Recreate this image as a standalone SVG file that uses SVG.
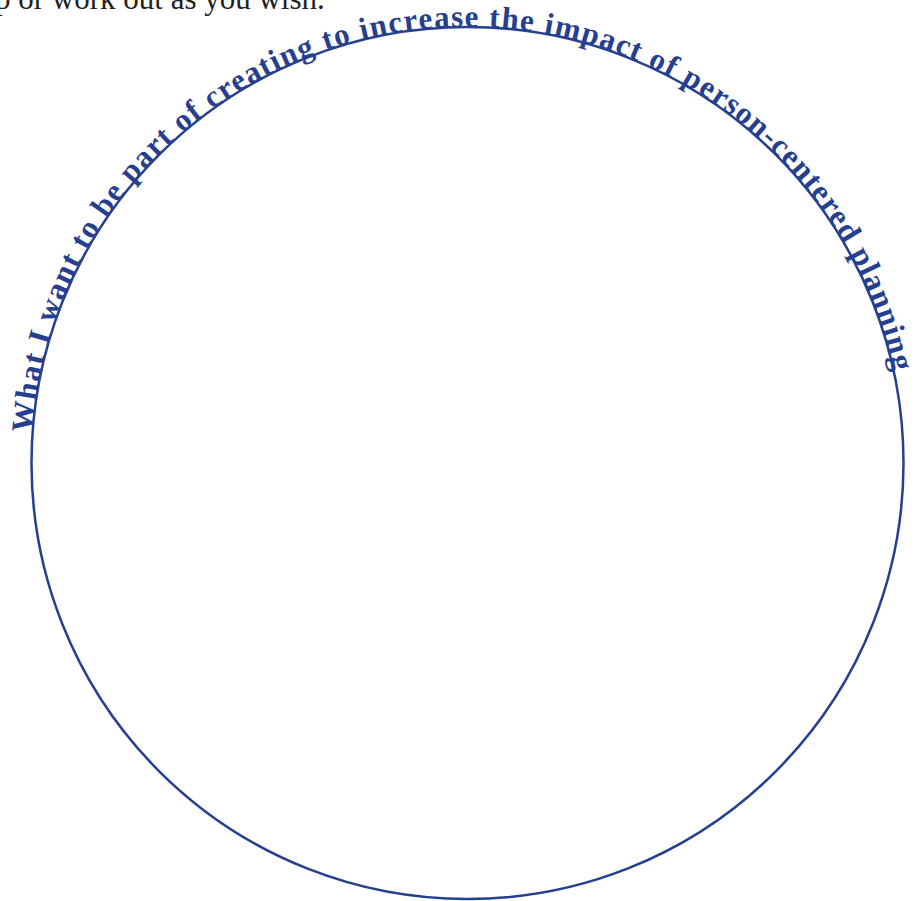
<svg xmlns="http://www.w3.org/2000/svg" xmlns:xlink="http://www.w3.org/1999/xlink" width="924" height="901" viewBox="0 0 924 901">
<style>
.ring{fill:none;stroke:#263f8e;stroke-width:2.5}
.arc{font-family:"Liberation Serif","Times New Roman",serif;font-weight:bold;font-size:31px;fill:#263f8e;letter-spacing:1.4px}
.note{font-family:"Liberation Serif","Times New Roman",serif;font-size:31px;fill:#231f20}
</style>
<defs>
<path id="ringPath" d="M 31.5,463 A 436,436 0 1,1 903.5,463 A 436,436 0 1,1 31.5,463"/>
</defs>
<rect width="924" height="901" fill="#ffffff"/>
<g id="note">
<text class="note" x="-5" y="9">p or work out as you wish.</text>
</g>
<g id="circle">
<circle class="ring" cx="467.5" cy="463" r="436"/>
<text class="arc"><textPath xlink:href="#ringPath" href="#ringPath" startOffset="30">What I want to be part of creating to increase the impact of person-centered planning</textPath></text>
</g>
</svg>
